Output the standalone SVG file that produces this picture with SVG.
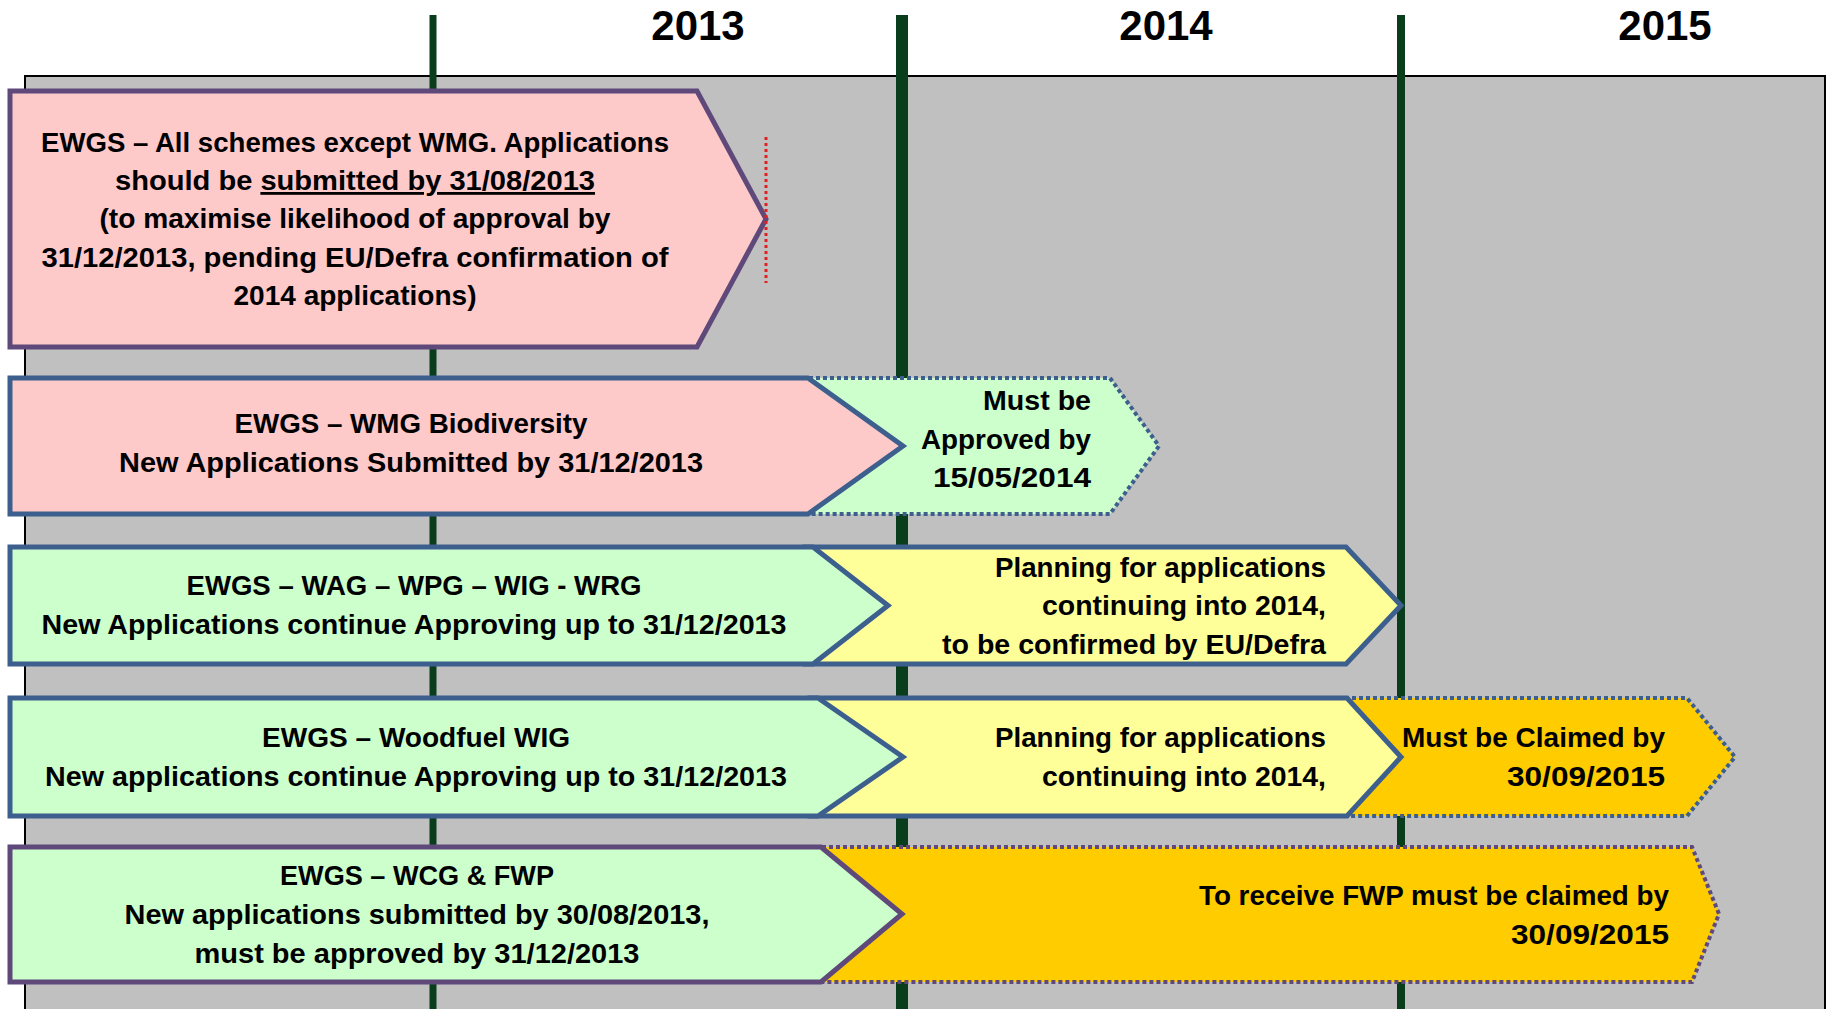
<svg xmlns="http://www.w3.org/2000/svg" width="1835" height="1009" viewBox="0 0 1835 1009">
<style>
.t{font-family:"Liberation Sans",Arial,sans-serif;font-weight:bold;font-size:28px;fill:#000}
.yr{font-family:"Liberation Sans",Arial,sans-serif;font-weight:bold;font-size:42px;fill:#000;text-anchor:middle}
.c{text-anchor:middle}
.r{text-anchor:end}
.yl{stroke:#0a3d1c}
.pink{fill:#FDC9C9}
.green{fill:#CCFFCC}
.yellow{fill:#FFFF99}
.orange{fill:#FFCC00}
.bs{stroke:#3C5F8E;stroke-width:5;stroke-linejoin:miter}
.ps{stroke:#5F497A;stroke-width:5;stroke-linejoin:miter}
.bd{stroke:#3C5F8E;stroke-width:4;stroke-dasharray:4 3}
.pd{stroke:#5F497A;stroke-width:4;stroke-dasharray:4 3}
</style>
<rect width="1835" height="1009" fill="#FFFFFF"/>
<g id="background">
<rect x="25" y="76" width="1800" height="960" fill="#C0C0C0" stroke="#000" stroke-width="2"/>
</g>
<g id="years">
<line class="yl" x1="433" y1="15" x2="433" y2="1009" stroke-width="7"/>
<line class="yl" x1="902" y1="15" x2="902" y2="1009" stroke-width="12"/>
<line class="yl" x1="1401" y1="15" x2="1401" y2="1009" stroke-width="8"/>
<text class="yr" x="698" y="40">2013</text>
<text class="yr" x="1166" y="40">2014</text>
<text class="yr" x="1665" y="40">2015</text>
</g>
<g id="connectors"></g>
<g id="row1">
<path class="pink ps" d="M10,91 L697,91 L766,219 L697,347 L10,347 Z"/>
<line x1="766" y1="137" x2="766" y2="283" stroke="#E02020" stroke-width="3" stroke-dasharray="3 3"/>
<text class="t c" x="355" y="152" textLength="628" lengthAdjust="spacingAndGlyphs">EWGS – All schemes except WMG. Applications</text>
<text class="t c" x="355" y="190" textLength="480" lengthAdjust="spacingAndGlyphs">should be <tspan text-decoration="underline">submitted by 31/08/2013</tspan></text>
<text class="t c" x="355" y="228" textLength="511" lengthAdjust="spacingAndGlyphs">(to maximise likelihood of approval by</text>
<text class="t c" x="355" y="267" textLength="627" lengthAdjust="spacingAndGlyphs">31/12/2013, pending EU/Defra confirmation of</text>
<text class="t c" x="355" y="305" textLength="243" lengthAdjust="spacingAndGlyphs">2014 applications)</text>
</g>
<g id="row2-approve">
<path class="green bd" d="M690,378 L1110,378 L1159,446 L1110,514 L690,514 Z"/>
<text class="t r" x="1091" y="410" textLength="108" lengthAdjust="spacingAndGlyphs">Must be</text>
<text class="t r" x="1091" y="449" textLength="170" lengthAdjust="spacingAndGlyphs">Approved by</text>
<text class="t r" x="1091" y="487" textLength="158" lengthAdjust="spacingAndGlyphs">15/05/2014</text>
</g>
<g id="row2">
<path class="pink bs" d="M10,378 L808,378 L903,446 L808,514 L10,514 Z"/>
<text class="t c" x="411" y="433" textLength="353" lengthAdjust="spacingAndGlyphs">EWGS – WMG Biodiversity</text>
<text class="t c" x="411" y="472" textLength="584" lengthAdjust="spacingAndGlyphs">New Applications Submitted by 31/12/2013</text>
</g>
<g id="row3-planning">
<path class="yellow bs" d="M805,547 L1346,547 L1401,605.5 L1346,664 L805,664 Z"/>
<text class="t r" x="1326" y="577" textLength="331" lengthAdjust="spacingAndGlyphs">Planning for applications</text>
<text class="t r" x="1326" y="615" textLength="284" lengthAdjust="spacingAndGlyphs">continuing into 2014,</text>
<text class="t r" x="1326" y="654" textLength="384" lengthAdjust="spacingAndGlyphs">to be confirmed by EU/Defra</text>
</g>
<g id="row3">
<path class="green bs" d="M10,547 L813,547 L888,605.5 L813,664 L10,664 Z"/>
<text class="t c" x="414" y="595" textLength="455" lengthAdjust="spacingAndGlyphs">EWGS – WAG – WPG – WIG - WRG</text>
<text class="t c" x="414" y="634" textLength="745" lengthAdjust="spacingAndGlyphs">New Applications continue Approving up to 31/12/2013</text>
</g>
<g id="row4-claim">
<path class="orange bd" d="M1345,698 L1687,698 L1735,757 L1687,816 L1345,816 Z"/>
<text class="t r" x="1665" y="747" textLength="263" lengthAdjust="spacingAndGlyphs">Must be Claimed by</text>
<text class="t r" x="1665" y="786" textLength="158" lengthAdjust="spacingAndGlyphs">30/09/2015</text>
</g>
<g id="row4-planning">
<path class="yellow bs" d="M810,698 L1347,698 L1401,757 L1347,816 L810,816 Z"/>
<text class="t r" x="1326" y="747" textLength="331" lengthAdjust="spacingAndGlyphs">Planning for applications</text>
<text class="t r" x="1326" y="786" textLength="284" lengthAdjust="spacingAndGlyphs">continuing into 2014,</text>
</g>
<g id="row4">
<path class="green bs" d="M10,698 L818,698 L903,757 L818,816 L10,816 Z"/>
<text class="t c" x="416" y="747" textLength="308" lengthAdjust="spacingAndGlyphs">EWGS – Woodfuel WIG</text>
<text class="t c" x="416" y="786" textLength="742" lengthAdjust="spacingAndGlyphs">New applications continue Approving up to 31/12/2013</text>
</g>
<g id="row5-claim">
<path class="orange pd" d="M815,847 L1692,847 L1719,914 L1692,982 L815,982 Z"/>
<text class="t r" x="1669" y="905" textLength="470" lengthAdjust="spacingAndGlyphs">To receive FWP must be claimed by</text>
<text class="t r" x="1669" y="944" textLength="158" lengthAdjust="spacingAndGlyphs">30/09/2015</text>
</g>
<g id="row5">
<path class="green ps" d="M10,847 L821,847 L902,914 L821,982 L10,982 Z"/>
<text class="t c" x="417" y="885" textLength="274" lengthAdjust="spacingAndGlyphs">EWGS – WCG &amp; FWP</text>
<text class="t c" x="417" y="924" textLength="585" lengthAdjust="spacingAndGlyphs">New applications submitted by 30/08/2013,</text>
<text class="t c" x="417" y="963" textLength="445" lengthAdjust="spacingAndGlyphs">must be approved by 31/12/2013</text>
</g>
</svg>
